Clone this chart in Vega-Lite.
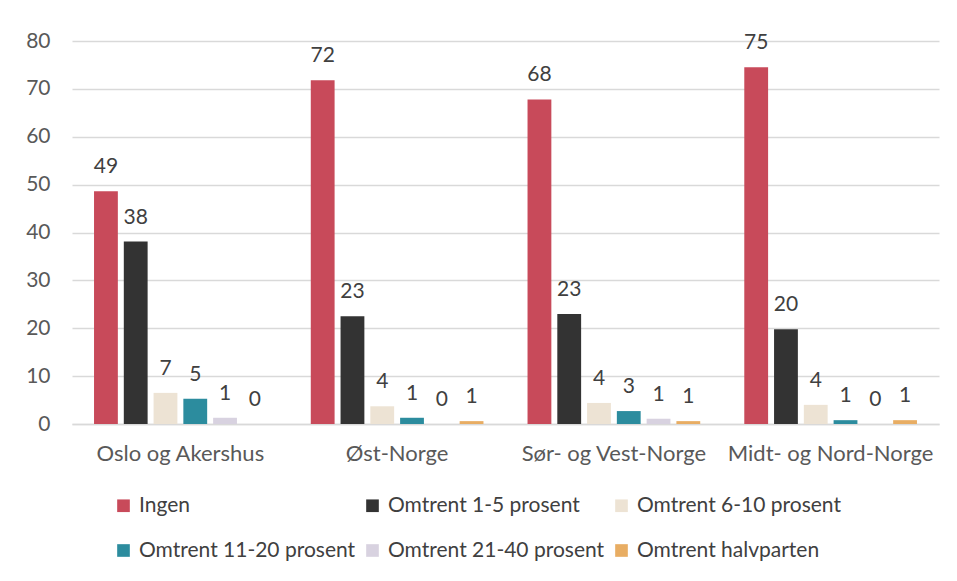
{
  "$schema": "https://vega.github.io/schema/vega-lite/v6.json",
  "width": 867,
  "height": 383,
  "autosize": {"type": "none"},
  "padding": {"left": 72, "top": 41, "right": 18, "bottom": 157},
  "background": "white",
  "config": {
    "font": "Lato",
    "view": {"stroke": null},
    "axis": {"labelFont": "Lato", "labelColor": "#595959", "labelFontSize": 21}
  },
  "data": {
    "values": [
      {"region": "Oslo og Akershus", "kategori": "Ingen", "verdi": 48.6},
      {"region": "Oslo og Akershus", "kategori": "Omtrent 1-5 prosent", "verdi": 38.1},
      {"region": "Oslo og Akershus", "kategori": "Omtrent 6-10 prosent", "verdi": 6.5},
      {"region": "Oslo og Akershus", "kategori": "Omtrent 11-20 prosent", "verdi": 5.3},
      {"region": "Oslo og Akershus", "kategori": "Omtrent 21-40 prosent", "verdi": 1.3},
      {"region": "Oslo og Akershus", "kategori": "Omtrent halvparten", "verdi": 0},
      {"region": "Øst-Norge", "kategori": "Ingen", "verdi": 71.8},
      {"region": "Øst-Norge", "kategori": "Omtrent 1-5 prosent", "verdi": 22.5},
      {"region": "Øst-Norge", "kategori": "Omtrent 6-10 prosent", "verdi": 3.7},
      {"region": "Øst-Norge", "kategori": "Omtrent 11-20 prosent", "verdi": 1.3},
      {"region": "Øst-Norge", "kategori": "Omtrent 21-40 prosent", "verdi": 0},
      {"region": "Øst-Norge", "kategori": "Omtrent halvparten", "verdi": 0.6},
      {"region": "Sør- og Vest-Norge", "kategori": "Ingen", "verdi": 67.8},
      {"region": "Sør- og Vest-Norge", "kategori": "Omtrent 1-5 prosent", "verdi": 23.0},
      {"region": "Sør- og Vest-Norge", "kategori": "Omtrent 6-10 prosent", "verdi": 4.4},
      {"region": "Sør- og Vest-Norge", "kategori": "Omtrent 11-20 prosent", "verdi": 2.7},
      {"region": "Sør- og Vest-Norge", "kategori": "Omtrent 21-40 prosent", "verdi": 1.1},
      {"region": "Sør- og Vest-Norge", "kategori": "Omtrent halvparten", "verdi": 0.6},
      {"region": "Midt- og Nord-Norge", "kategori": "Ingen", "verdi": 74.5},
      {"region": "Midt- og Nord-Norge", "kategori": "Omtrent 1-5 prosent", "verdi": 19.8},
      {"region": "Midt- og Nord-Norge", "kategori": "Omtrent 6-10 prosent", "verdi": 4.0},
      {"region": "Midt- og Nord-Norge", "kategori": "Omtrent 11-20 prosent", "verdi": 0.8},
      {"region": "Midt- og Nord-Norge", "kategori": "Omtrent 21-40 prosent", "verdi": 0},
      {"region": "Midt- og Nord-Norge", "kategori": "Omtrent halvparten", "verdi": 0.8}
    ]
  },
  "encoding": {
    "x": {
      "field": "region", "type": "nominal",
      "sort": ["Oslo og Akershus", "Øst-Norge", "Sør- og Vest-Norge", "Midt- og Nord-Norge"],
      "scale": {"paddingInner": 0, "paddingOuter": 0},
      "axis": {"title": null, "labelAngle": 0, "labelFontSize": 22, "labelLimit": 400, "ticks": false, "domainColor": "#d9d9d9", "domainWidth": 1.5, "labelPadding": 19}
    },
    "xOffset": {
      "field": "kategori", "type": "nominal",
      "sort": ["Ingen", "Omtrent 1-5 prosent", "Omtrent 6-10 prosent", "Omtrent 11-20 prosent", "Omtrent 21-40 prosent", "Omtrent halvparten"],
      "scale": {"paddingInner": 0.2, "paddingOuter": 0.74}
    },
    "y": {
      "field": "verdi", "type": "quantitative",
      "scale": {"domain": [0, 80]},
      "axis": {"title": null, "values": [0, 10, 20, 30, 40, 50, 60, 70, 80], "labelOverlap": false, "ticks": false, "domain": false, "gridColor": "#d9d9d9", "gridWidth": 1.5, "labelPadding": 22}
    }
  },
  "layer": [
    {
      "mark": {"type": "bar"},
      "encoding": {
        "color": {
          "field": "kategori", "type": "nominal",
          "scale": {
            "domain": ["Ingen", "Omtrent 1-5 prosent", "Omtrent 6-10 prosent", "Omtrent 11-20 prosent", "Omtrent 21-40 prosent", "Omtrent halvparten"],
            "range": ["#C84A5A", "#333333", "#EDE3D4", "#2C8C9E", "#D8D2E0", "#E8AD63"]
          },
          "legend": {
            "title": null,
            "orient": "none",
            "legendX": 41,
            "legendY": 454,
            "direction": "horizontal",
            "columns": 3,
            "gridAlign": "all",
            "columnPadding": 6,
            "rowPadding": 23,
            "symbolType": "square",
            "symbolSize": 160,
            "symbolStrokeWidth": 0,
            "symbolOffset": 0,
            "labelOffset": 5,
            "labelFont": "Lato",
            "labelFontSize": 21,
            "labelColor": "#404040",
            "labelLimit": 400
          }
        }
      }
    },
    {
      "mark": {"type": "text", "baseline": "alphabetic", "dy": -18, "fontSize": 21, "color": "#404040", "font": "Lato"},
      "encoding": {
        "text": {"field": "verdi", "type": "quantitative", "format": ".0f"}
      }
    }
  ]
}
